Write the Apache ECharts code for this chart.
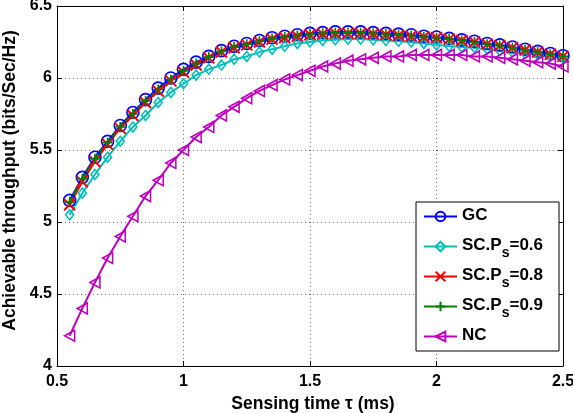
<!DOCTYPE html>
<html><head><meta charset="utf-8">
<script src="https://cdn.jsdelivr.net/npm/echarts@6/dist/echarts.min.js"></script>
<style>html,body{margin:0;padding:0;background:#fff}#c{width:573px;height:413px}</style>
</head><body><div id="c"></div>
<script>
const xs = [0.55,0.60,0.65,0.70,0.75,0.80,0.85,0.90,0.95,1.00,1.05,1.10,1.15,1.20,1.25,1.30,1.35,1.40,1.45,1.50,
            1.55,1.60,1.65,1.70,1.75,1.80,1.85,1.90,1.95,2.00,2.05,2.10,2.15,2.20,2.25,2.30,2.35,2.40,2.45,2.50];
const gc = [5.15,5.31,5.45,5.56,5.67,5.76,5.85,5.93,6.00,6.06,6.11,6.15,6.19,6.22,6.24,6.26,6.28,6.29,6.30,6.31,
            6.315,6.32,6.32,6.32,6.315,6.31,6.305,6.30,6.29,6.285,6.275,6.265,6.255,6.24,6.23,6.215,6.20,6.185,6.17,6.155];
const sc06 = [5.05,5.20,5.33,5.45,5.56,5.66,5.74,5.83,5.90,5.96,6.02,6.06,6.09,6.13,6.15,6.18,6.20,6.22,6.24,6.25,
            6.26,6.265,6.27,6.27,6.265,6.26,6.255,6.25,6.24,6.23,6.22,6.215,6.21,6.20,6.19,6.18,6.17,6.16,6.15,6.14];
const sc08 = [5.12,5.28,5.42,5.54,5.65,5.74,5.83,5.91,5.98,6.04,6.09,6.14,6.18,6.21,6.23,6.25,6.27,6.28,6.29,6.30,
            6.305,6.31,6.31,6.31,6.305,6.30,6.295,6.29,6.285,6.28,6.27,6.26,6.25,6.235,6.225,6.21,6.195,6.18,6.165,6.15];
const sc09 = [5.14,5.30,5.44,5.55,5.66,5.75,5.84,5.92,5.99,6.05,6.10,6.145,6.185,6.215,6.235,6.255,6.275,6.285,6.295,6.305,
            6.31,6.315,6.315,6.315,6.31,6.305,6.30,6.295,6.285,6.28,6.27,6.26,6.25,6.235,6.225,6.21,6.195,6.18,6.165,6.15];
const nc = [4.21,4.40,4.58,4.75,4.90,5.04,5.18,5.29,5.41,5.50,5.59,5.66,5.74,5.80,5.86,5.91,5.95,5.99,6.02,6.05,
            6.08,6.10,6.12,6.13,6.14,6.15,6.15,6.16,6.16,6.16,6.16,6.16,6.15,6.15,6.14,6.13,6.12,6.11,6.10,6.08];
const names = ['GC','SC.Ps=0.6','SC.Ps=0.8','SC.Ps=0.9','NC'];
const xTicks = [0.5,1,1.5,2,2.5];
const yTicks = [4,4.5,5,5.5,6,6.5];

const F = '"Liberation Sans", Arial, Helvetica, sans-serif';
const colors = ['#0000ff','#00bfbf','#ff0000','#008000','#bf00bf'];
const symbols = [
  'path://M10,5A5,5,0,1,1,0,5A5,5,0,1,1,10,5Z',
  'path://M5,0L10,5L5,10L0,5Z',
  'path://M0,0L10,10M10,0L0,10',
  'path://M5,0L5,10M0,5L10,5',
  'path://M0,5L10,0L10,10Z'
];
const sizes = [[12,12],[8,10],[11,11],[10,10],[10,11]];
const vals = [gc, sc06, sc08, sc09, nc];

const series = names.map((n,k)=>({
  name: n, type: 'line',
  data: xs.map((x,i)=>[x, vals[k][i]]),
  symbol: symbols[k], symbolSize: sizes[k], showAllSymbol: true,
  lineStyle: {color: colors[k], width: 2},
  itemStyle: {color: 'rgba(0,0,0,0)', borderColor: colors[k], borderWidth: k===2?2:1.6},
  emphasis: {disabled: true},
  animation: false
}));

const axisCommon = {
  type: 'value',
  axisLine: {show: true, onZero: false, lineStyle: {color: '#000', width: 1}},
  axisTick: {show: true, inside: true, length: 5, lineStyle: {color: '#000'}},
};
const chart = echarts.init(document.getElementById('c'));
chart.setOption({
  backgroundColor: '#fff',
  animation: false,
  grid: {left: 57, right: 10, top: 6, bottom: 47, containLabel: false, outerBoundsMode: 'none'},
  xAxis: [
    Object.assign({}, axisCommon, {min: xTicks[0], max: xTicks[xTicks.length-1], interval: 0.5, position: 'bottom',
      axisLabel: {margin: 8, color: '#000', fontSize: 16, fontWeight: 'bold', fontFamily: F},
      splitLine: {show: true, lineStyle: {color: '#666', type: [1,3], width: 1}},
      name: 'Sensing time \u03c4 (ms)', nameLocation: 'middle', nameGap: 21,
      nameTextStyle: {color: '#000', fontSize: 17.5, fontWeight: 'bold', fontFamily: F, padding: [0,0,0,6]}}),
    Object.assign({}, axisCommon, {min: xTicks[0], max: xTicks[xTicks.length-1], interval: 0.5, position: 'top',
      axisLabel: {show: false}, splitLine: {show: false}})
  ],
  yAxis: [
    Object.assign({}, axisCommon, {min: yTicks[0], max: yTicks[yTicks.length-1], interval: 0.5, position: 'left',
      axisLabel: {margin: 5, color: '#000', fontSize: 16, fontWeight: 'bold', fontFamily: F},
      splitLine: {show: true, lineStyle: {color: '#666', type: [1,3], width: 1}},
      name: 'Achievable throughput (bits/Sec/Hz)', nameLocation: 'middle', nameGap: 36,
      nameTextStyle: {color: '#000', fontSize: 17.5, fontWeight: 'bold', fontFamily: F, padding: [0,0,0,11]}}),
    Object.assign({}, axisCommon, {min: yTicks[0], max: yTicks[yTicks.length-1], interval: 0.5, position: 'right',
      axisLabel: {show: false}, splitLine: {show: false}})
  ],
  legend: {
    orient: 'vertical', left: 416, top: 202,
    backgroundColor: '#fff', borderColor: '#000', borderWidth: 1,
    padding: [0, 16, 0, 7], itemGap: 1, itemWidth: 33, itemHeight: 12,
    data: names,
    formatter: function(n){
      if (n.indexOf('Ps') >= 0) { return '{a|SC.P}{s|s}{a|' + n.split('Ps')[1] + '}'; }
      return '{a|' + n + '}';
    },
    textStyle: {
      rich: {
        a: {fontSize: 17, fontWeight: 'bold', fontFamily: F, color: '#000', lineHeight: 16, padding: [5,0,7,0]},
        s: {fontSize: 14, fontWeight: 'bold', fontFamily: F, color: '#000', lineHeight: 14, padding: [14,0,0,0]}
      }
    }
  },
  series: series
});
</script></body></html>
